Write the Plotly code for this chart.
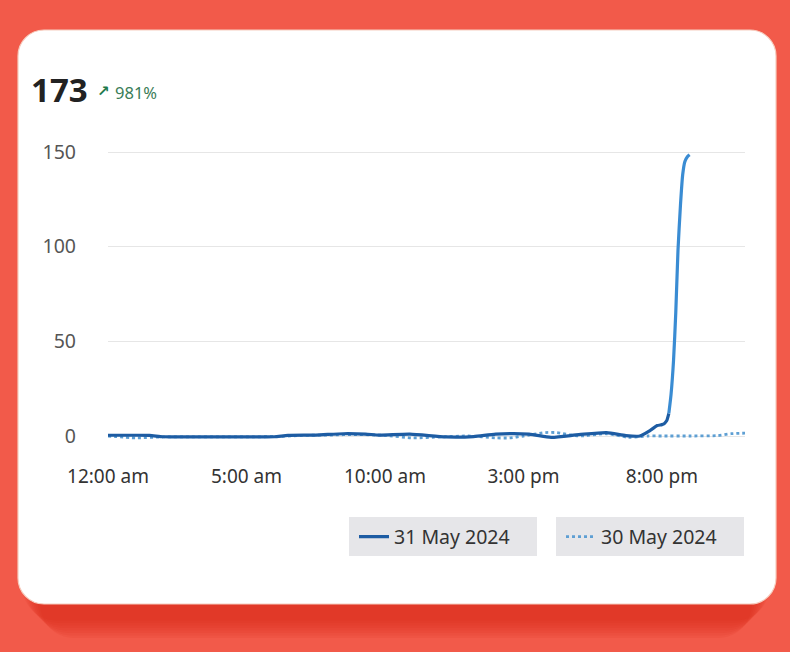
import plotly.graph_objects as go

# ---------------- data (hours since midnight, value) ----------------
may31_hours = [0, 1, 1.5, 2, 3, 4, 5, 6, 6.5, 7.5, 8.5, 9.3, 9.8, 10.9, 12.2, 13.2,
               14.0, 15.2, 16.0, 17.0, 18.0, 18.7, 19.2, 19.58, 19.83, 20.0, 20.08,
               20.17, 20.25]
may31_values = [0.4, 0.4, 0.3, -0.4, -0.5, -0.5, -0.5, -0.4, 0.3, 0.5, 1.2, 1.0, 0.5,
                1.0, -0.5, -0.3, 1.0, 1.0, -0.7, 0.7, 1.8, 0.2, 0.0, 3.0, 5.5, 6.0,
                6.5, 8.0, 12.0]
spike_hours = [20.25, 20.33, 20.42, 20.5, 20.58, 20.67, 20.75, 20.83, 20.92, 21.0]
spike_values = [12.0, 22.0, 40.0, 65.0, 98.0, 122.0, 138.0, 145.0, 147.5, 148.5]

may30_hours = [0, 1, 2, 3, 4, 5, 6, 7, 8, 9, 10, 11, 12, 13, 14, 14.5, 15, 15.8,
               16.2, 17, 18, 18.8, 19.5, 20, 21, 22, 22.5, 23]
may30_values = [0, -1, -0.5, -0.5, -0.5, -0.5, -0.3, 0.3, 0.5, 0.8, 0.3, -1, -0.5,
                0, -1, -1, 0, 1.8, 1.8, 0, 1.2, -0.7, 0, 0, 0, 0.2, 1.2, 1.5]

tick_hours = [0, 5, 10, 15, 20]
tick_labels = ["12:00 am", "5:00 am", "10:00 am", "3:00 pm", "8:00 pm"]
y_ticks = [0, 50, 100, 150]

series_names = ["31 May 2024", "30 May 2024"]
headline_value = "173"
headline_change = "981%"

# ---------------- layout geometry ----------------
W, H = 790, 652
L, R, T, B = 108, 45, 140, 202
PW, PH = W - L - R, H - T - B


def px(x):
    return (x - L) / PW


def py(y):
    return (H - B - y) / PH


def rounded_rect(x0, y0, x1, y1, r):
    rx, ry = r / PW, r / PH
    X0, X1 = px(x0), px(x1)
    Y0, Y1 = py(y0), py(y1)  # Y0 top (larger), Y1 bottom
    k = 0.45
    return (f"M{X0+rx},{Y0} L{X1-rx},{Y0} "
            f"C{X1-rx*k},{Y0} {X1},{Y0-ry*k} {X1},{Y0-ry} "
            f"L{X1},{Y1+ry} "
            f"C{X1},{Y1+ry*k} {X1-rx*k},{Y1} {X1-rx},{Y1} "
            f"L{X0+rx},{Y1} "
            f"C{X0+rx*k},{Y1} {X0},{Y1+ry*k} {X0},{Y1+ry} "
            f"L{X0},{Y0-ry} "
            f"C{X0},{Y0-ry*k} {X0+rx*k},{Y0} {X0+rx},{Y0} Z")


FONT = "Noto Sans"
DARK = "#1d5ca3"
LIGHT = "#3a8cd3"
DOT = "#5e9fd3"

fig = go.Figure()

fig.add_trace(go.Scatter(
    x=may30_hours, y=may30_values, mode="lines", name=series_names[1],
    line=dict(color=DOT, width=2.8, dash="dot", shape="spline", smoothing=0.6),
    legend="legend2", hoverinfo="skip"))

fig.add_trace(go.Scatter(
    x=may31_hours, y=may31_values, mode="lines", name=series_names[0],
    line=dict(color=DARK, width=3.2, shape="spline", smoothing=0.6),
    legend="legend", hoverinfo="skip"))

fig.add_trace(go.Scatter(
    x=spike_hours, y=spike_values, mode="lines", name=series_names[0],
    line=dict(color=LIGHT, width=3.2, shape="spline", smoothing=0.6),
    showlegend=False, hoverinfo="skip"))

shapes = []
# soft shadow beneath the card
for i in range(8):
    g = i * 2.5
    shapes.append(dict(type="path", xref="paper", yref="paper", layer="below",
                       path=rounded_rect(40 - g, 60, 752 + g, 638 - g, 34),
                       fillcolor="rgba(215,35,22,0.10)", line=dict(width=0)))
# card
shapes.append(dict(type="path", xref="paper", yref="paper", layer="below",
                   path=rounded_rect(18, 30, 776, 604, 26),
                   fillcolor="#ffffff", line=dict(color="#f6cdbf", width=1.2)))
# legend boxes
for (x0, x1) in [(349, 537), (556, 744)]:
    shapes.append(dict(type="rect", xref="paper", yref="paper", layer="below",
                       x0=px(x0), x1=px(x1), y0=py(556), y1=py(517),
                       fillcolor="#e6e6e9", line=dict(width=0)))

annotations = [
    dict(text=f"<b>{headline_value}</b>", xref="paper", yref="paper",
         x=px(29), y=py(90), xanchor="left", yanchor="middle", showarrow=False,
         font=dict(family=FONT, size=33, color="#222222")),
    dict(text="<b>↗</b>", xref="paper", yref="paper",
         x=px(95), y=py(91), xanchor="left", yanchor="middle", showarrow=False,
         font=dict(family="DejaVu Sans", size=15, color="#1f7a4c")),
    dict(text=headline_change, xref="paper", yref="paper",
         x=px(113), y=py(92), xanchor="left", yanchor="middle", showarrow=False,
         font=dict(family=FONT, size=16.5, color="#3a7d58")),
]

legend_common = dict(orientation="h", bgcolor="rgba(0,0,0,0)", borderwidth=0,
                     yanchor="middle", xanchor="left",
                     font=dict(family=FONT, size=19.5, color="#333333"))

fig.update_layout(
    width=W, height=H,
    margin=dict(l=L, r=R, t=T, b=B),
    paper_bgcolor="#f25a4a",
    plot_bgcolor="rgba(0,0,0,0)",
    font=dict(family=FONT),
    shapes=shapes,
    annotations=annotations,
    legend=dict(x=px(354), y=py(537), **legend_common),
    legend2=dict(x=px(561), y=py(537), **legend_common),
    xaxis=dict(range=[0, 23], tickvals=tick_hours, ticktext=tick_labels,
               showgrid=False, zeroline=False, showline=False, ticks="",
               ticklabelstandoff=13,
               tickfont=dict(family=FONT, size=19, color="#333333"),
               fixedrange=True),
    yaxis=dict(range=[-(H - B - 436) / 1.8933, 150 + (152 - T) / 1.8933],
               tickvals=y_ticks, showgrid=True, gridcolor="#e6e6e6", gridwidth=1,
               zeroline=False, showline=False, ticks="", ticklabelstandoff=31,
               tickfont=dict(family=FONT, size=19.5, color="#555555"),
               fixedrange=True),
    hovermode=False,
)

fig.write_html("out.html", config={"displayModeBar": False},
               post_script="document.body.style.margin='0';"
                           "document.body.style.overflow='hidden';")
